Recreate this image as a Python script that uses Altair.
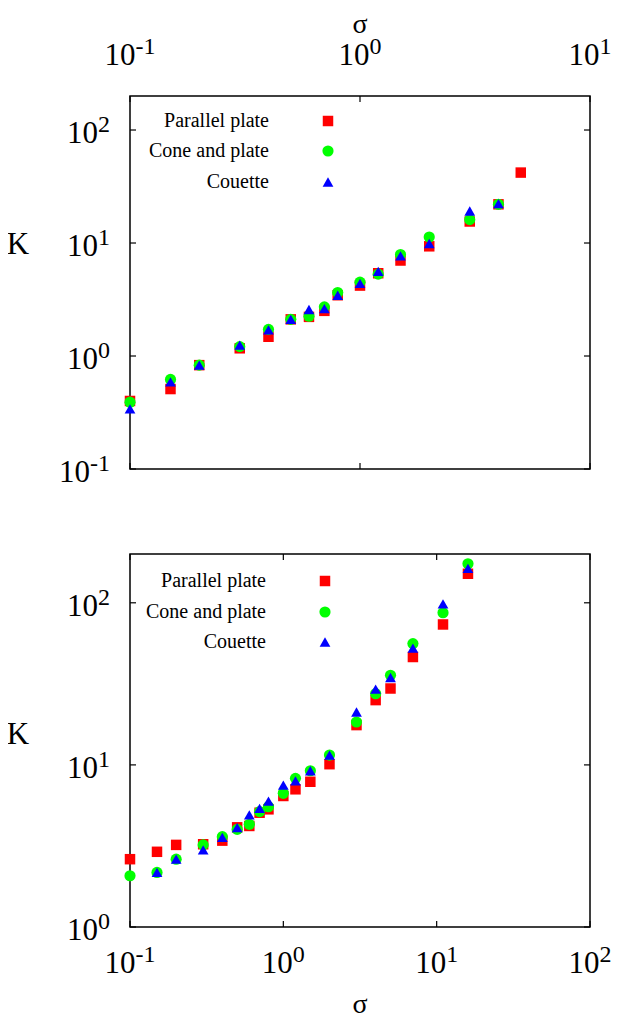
import altair as alt
import pandas as pd

FONT = "Liberation Serif"

# ---------------- data ----------------
series_names = ["Parallel plate", "Cone and plate", "Couette"]
series_colors = ["#ff0000", "#00ff00", "#0000ff"]
series_shapes = ["square", "circle", "triangle-up"]
series_sizes = [110, 125, 115]

# top panel
top_pp_sigma = [0.1, 0.15, 0.2, 0.3, 0.4, 0.5, 0.6, 0.7, 0.8, 1.0, 1.2, 1.5, 2.0, 3.0, 4.0, 5.0]
top_pp_K = [0.40, 0.51, 0.83, 1.17, 1.48, 2.11, 2.22, 2.51, 3.45, 4.2, 5.4, 7.0, 9.35, 15.5, 22.0, 42.0]
top_cp_sigma = [0.1, 0.15, 0.2, 0.3, 0.4, 0.5, 0.6, 0.7, 0.8, 1.0, 1.2, 1.5, 2.0, 3.0, 4.0]
top_cp_K = [0.39, 0.62, 0.83, 1.21, 1.72, 2.11, 2.25, 2.72, 3.65, 4.5, 5.3, 7.9, 11.3, 16.1, 22.0]
top_co_sigma = [0.1, 0.15, 0.2, 0.3, 0.4, 0.5, 0.6, 0.7, 0.8, 1.0, 1.2, 1.5, 2.0, 3.0, 4.0]
top_co_K = [0.34, 0.59, 0.83, 1.25, 1.70, 2.11, 2.58, 2.63, 3.45, 4.4, 5.6, 7.7, 9.9, 19.2, 22.3]

# bottom panel
bot_pp_sigma = [0.1, 0.15, 0.2, 0.3, 0.4, 0.5, 0.6, 0.7, 0.8, 1.0, 1.2, 1.5, 2.0, 3.0, 4.0, 5.0, 7.0, 11.0, 16.0]
bot_pp_K = [2.62, 2.91, 3.21, 3.24, 3.41, 4.12, 4.2, 5.07, 5.32, 6.43, 7.07, 7.87, 10.1, 17.6, 25.1, 29.6, 46.3, 73.5, 151.0]
bot_cp_sigma = [0.1, 0.15, 0.2, 0.3, 0.4, 0.5, 0.6, 0.7, 0.8, 1.0, 1.2, 1.5, 2.0, 3.0, 4.0, 5.0, 7.0, 11.0, 16.0]
bot_cp_K = [2.07, 2.17, 2.62, 3.21, 3.61, 4.0, 4.3, 5.15, 5.52, 6.68, 8.26, 9.2, 11.5, 18.4, 27.5, 35.7, 56.0, 86.8, 174.0]
bot_co_sigma = [0.15, 0.2, 0.3, 0.4, 0.5, 0.6, 0.7, 0.8, 1.0, 1.2, 1.5, 2.0, 3.0, 4.0, 5.0, 7.0, 11.0, 16.0]
bot_co_K = [2.17, 2.62, 2.99, 3.57, 4.1, 4.91, 5.4, 5.98, 7.51, 7.98, 9.2, 11.5, 21.2, 29.3, 34.6, 52.6, 98.6, 163.0]

# axes
top_x_domain = [0.1, 10]
top_y_domain = [0.1, 200]
bot_x_domain = [0.1, 100]
bot_y_domain = [1, 200]
top_x_ticks = [0.1, 1, 10]
top_x_exps = ["-1", "0", "1"]
top_y_ticks = [0.1, 1, 10, 100]
top_y_exps = ["-1", "0", "1", "2"]
bot_x_ticks = [0.1, 1, 10, 100]
bot_x_exps = ["-1", "0", "1", "2"]
bot_y_ticks = [1, 10, 100]
bot_y_exps = ["0", "1", "2"]
x_title = "σ"
y_title = "K"

# ---------------- layout ----------------
W = 460
H_TOP = 373
BOT_Y0 = 458
H_ALL = 831
TICK = 6
BASE_FS = 31
SUP_FS = 24
RAISE = 11
LEG_FS = 20


def logscale(domain, rng):
    return alt.Scale(type="log", domain=domain, range=rng, nice=False)


sx_top = logscale(top_x_domain, [0, W])
sy_top = logscale(top_y_domain, [H_TOP, 0])
sx_bot = logscale(bot_x_domain, [0, W])
sy_bot = logscale(bot_y_domain, [H_ALL, BOT_Y0])


def xd(v, s):
    return alt.XDatum(v, type="quantitative", scale=s, axis=None)


def yd(v, s):
    return alt.YDatum(v, type="quantitative", scale=s, axis=None)


def point_layers(data, sx, sy):
    out = []
    for (sig, k), color, shape, size in zip(data, series_colors, series_shapes, series_sizes):
        df = pd.DataFrame({"sigma": sig, "K": k})
        out.append(
            alt.Chart(df)
            .mark_point(filled=True, opacity=1, shape=shape, size=size, color=color, strokeWidth=0)
            .encode(
                x=alt.X("sigma:Q", scale=sx, axis=None),
                y=alt.Y("K:Q", scale=sy, axis=None),
            )
        )
    return out


def frame_layers(sx, sy, xdom, ydom, xticks, yticks):
    out = []
    out.append(
        alt.Chart(pd.DataFrame({"a": [0]}))
        .mark_rect(fillOpacity=0, stroke="black", strokeWidth=1.5)
        .encode(x=xd(xdom[0], sx), x2=alt.X2Datum(xdom[1]), y=yd(ydom[0], sy), y2=alt.Y2Datum(ydom[1]))
    )
    dfx = pd.DataFrame({"t": xticks})
    dfy = pd.DataFrame({"t": yticks})
    rule = dict(color="black", strokeWidth=1.2)
    out.append(alt.Chart(dfx).mark_rule(y2Offset=TICK, **rule).encode(
        x=alt.X("t:Q", scale=sx, axis=None), y=yd(ydom[1], sy), y2=alt.Y2Datum(ydom[1])))
    out.append(alt.Chart(dfx).mark_rule(y2Offset=-TICK, **rule).encode(
        x=alt.X("t:Q", scale=sx, axis=None), y=yd(ydom[0], sy), y2=alt.Y2Datum(ydom[0])))
    out.append(alt.Chart(dfy).mark_rule(x2Offset=TICK, **rule).encode(
        y=alt.Y("t:Q", scale=sy, axis=None), x=xd(xdom[0], sx), x2=alt.X2Datum(xdom[0])))
    out.append(alt.Chart(dfy).mark_rule(x2Offset=-TICK, **rule).encode(
        y=alt.Y("t:Q", scale=sy, axis=None), x=xd(xdom[1], sx), x2=alt.X2Datum(xdom[1])))
    return out


def expw(e):
    return sum(0.333 if ch == "-" else 0.5 for ch in e) * SUP_FS


def x_label_layers(ticks, exps, sx, sy, yval, dy_base):
    out = []
    for t, e in zip(ticks, exps):
        c = (BASE_FS - expw(e)) / 2
        df = pd.DataFrame({"t": [t], "b": ["10"], "e": [e]})
        enc = dict(x=alt.X("t:Q", scale=sx, axis=None), y=yd(yval, sy))
        out.append(alt.Chart(df).mark_text(font=FONT, fontSize=BASE_FS, align="right", baseline="alphabetic",
                                           dx=c, dy=dy_base, color="black").encode(text="b:N", **enc))
        out.append(alt.Chart(df).mark_text(font=FONT, fontSize=SUP_FS, align="left", baseline="alphabetic",
                                           dx=c, dy=dy_base - RAISE, color="black").encode(text="e:N", **enc))
    return out


def y_label_layers(ticks, exps, sx, sy, xval, gap=20, dy_base=13):
    out = []
    for t, e in zip(ticks, exps):
        w = expw(e)
        df = pd.DataFrame({"t": [t], "b": ["10"], "e": [e]})
        enc = dict(y=alt.Y("t:Q", scale=sy, axis=None), x=xd(xval, sx))
        out.append(alt.Chart(df).mark_text(font=FONT, fontSize=BASE_FS, align="right", baseline="alphabetic",
                                           dx=-(gap + w), dy=dy_base, color="black").encode(text="b:N", **enc))
        out.append(alt.Chart(df).mark_text(font=FONT, fontSize=SUP_FS, align="right", baseline="alphabetic",
                                           dx=-gap, dy=dy_base - RAISE, color="black").encode(text="e:N", **enc))
    return out


def legend_layers(x_text, x_sym, ys):
    out = []
    for name, color, shape, size, y in zip(series_names, series_colors, series_shapes, series_sizes, ys):
        d = pd.DataFrame({"name": [name]})
        out.append(alt.Chart(d).mark_text(font=FONT, fontSize=LEG_FS, align="right", baseline="middle",
                                          color="black").encode(text="name:N", x=alt.value(x_text), y=alt.value(y)))
        out.append(alt.Chart(d).mark_point(filled=True, opacity=1, shape=shape, size=size, color=color,
                                           strokeWidth=0).encode(x=alt.value(x_sym), y=alt.value(y)))
    return out


def title_layer(txt, x, y, size, baseline="alphabetic"):
    d = pd.DataFrame({"s": [txt]})
    return alt.Chart(d).mark_text(font=FONT, fontSize=size, align="center", baseline=baseline,
                                  color="black").encode(text="s:N", x=alt.value(x), y=alt.value(y))


layers = []
# top panel
layers += frame_layers(sx_top, sy_top, top_x_domain, top_y_domain, top_x_ticks, top_y_ticks)
layers += point_layers([(top_pp_sigma, top_pp_K), (top_cp_sigma, top_cp_K), (top_co_sigma, top_co_K)],
                       sx_top, sy_top)
layers += x_label_layers(top_x_ticks, top_x_exps, sx_top, sy_top, top_y_domain[1], -31)
layers += y_label_layers(top_y_ticks, top_y_exps, sx_top, sy_top, top_x_domain[0])
layers += legend_layers(139, 198, [25, 55, 86])
layers.append(title_layer(x_title, W / 2, -63, 28))
layers.append(title_layer(y_title, -112, 149, 31, "middle"))

# bottom panel
layers += frame_layers(sx_bot, sy_bot, bot_x_domain, bot_y_domain, bot_x_ticks, bot_y_ticks)
layers += point_layers([(bot_pp_sigma, bot_pp_K), (bot_cp_sigma, bot_cp_K), (bot_co_sigma, bot_co_K)],
                       sx_bot, sy_bot)
layers += x_label_layers(bot_x_ticks, bot_x_exps, sx_bot, sy_bot, bot_y_domain[0], 46)
layers += y_label_layers(bot_y_ticks, bot_y_exps, sx_bot, sy_bot, bot_x_domain[0])
layers += legend_layers(136, 195, [485, 516, 546])
layers.append(title_layer(x_title, W / 2, 917, 28))
layers.append(title_layer(y_title, -112, 639, 31, "middle"))

chart = (
    alt.layer(*layers)
    .resolve_scale(x="independent", y="independent")
    .properties(
        width=W,
        height=H_ALL,
        autosize=alt.AutoSizeParams(type="none"),
        padding={"left": 122, "top": 88, "right": 25, "bottom": 96},
    )
    .configure_view(stroke=None)
)

chart.save("out.html", embed_options={"renderer": "svg", "actions": False})
